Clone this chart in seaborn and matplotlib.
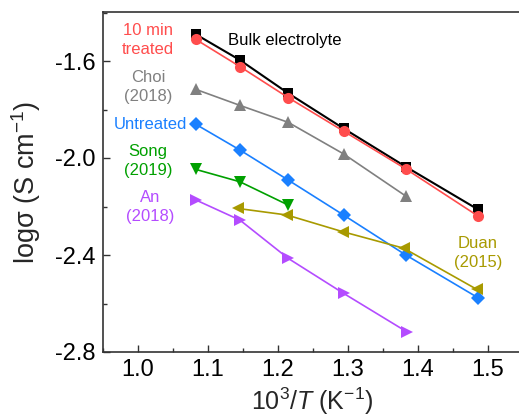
import matplotlib
matplotlib.use("Agg")
import matplotlib.pyplot as plt
import seaborn as sns
import pandas as pd
from matplotlib.ticker import MultipleLocator

# ---- data ----
x6 = [1.083, 1.146, 1.215, 1.294, 1.383, 1.486]
bulk = [-1.49, -1.596, -1.733, -1.878, -2.036, -2.212]
treated10 = [-1.511, -1.623, -1.751, -1.889, -2.045, -2.239]
untreated = [-1.861, -1.967, -2.091, -2.235, -2.400, -2.576]
choi_x = [1.083, 1.146, 1.215, 1.294, 1.383]
choi = [-1.717, -1.783, -1.853, -1.983, -2.157]
song_x = [1.083, 1.146, 1.215]
song = [-2.047, -2.098, -2.194]
duan_x = [1.143, 1.213, 1.293, 1.380, 1.484]
duan = [-2.208, -2.235, -2.304, -2.372, -2.541]
an_x = [1.083, 1.146, 1.215, 1.294, 1.384]
an = [-2.173, -2.256, -2.414, -2.558, -2.716]

xticks = [1.0, 1.1, 1.2, 1.3, 1.4, 1.5]
yticks = [-2.8, -2.4, -2.0, -1.6]

sns.set_style("ticks")
plt.rcParams['font.family'] = ['Liberation Sans', 'DejaVu Sans']
plt.rcParams['axes.unicode_minus'] = False
plt.rcParams['mathtext.fontset'] = 'custom'
plt.rcParams['mathtext.rm'] = 'Liberation Sans'
plt.rcParams['mathtext.it'] = 'Liberation Sans:italic'

fig = plt.figure(figsize=(5.19, 4.17), dpi=100)
ax = fig.add_axes([102.7 / 519, 1 - 352 / 417, 420 / 519, 339.5 / 417])

series = [
    (x6, bulk, 'black', 's', 6.5, 1.5),
    (choi_x, choi, '#808080', '^', 8, 1.2),
    (x6, untreated, '#1A80FF', 'D', 7.5, 1.2),
    (song_x, song, '#00A000', 'v', 8, 1.2),
    (duan_x, duan, '#A89A00', '<', 8, 1.2),
    (an_x, an, '#B44CFF', '>', 8, 1.2),
    (x6, treated10, '#FF4D4D', 'o', 8, 1.2),
]
for xs, ys, c, m, ms, lw in series:
    df = pd.DataFrame({'x': xs, 'y': ys})
    sns.lineplot(data=df, x='x', y='y', ax=ax, color=c, marker=m, markersize=ms,
                 markeredgewidth=0, linewidth=lw, sort=False)

ax.set_xlim(0.95, 1.55)
ax.set_ylim(-2.8, -1.4)
ax.set_xticks(xticks)
ax.set_yticks(yticks)
ax.set_xticklabels([f"{v:.1f}" for v in xticks])
ax.set_yticklabels([f"{v:.1f}" for v in yticks])
ax.xaxis.set_minor_locator(MultipleLocator(0.05))
ax.yaxis.set_minor_locator(MultipleLocator(0.2))
ax.tick_params(which='both', direction='in', width=1.0, colors='#333333', labelcolor='black')
ax.tick_params(which='major', length=5, labelsize=17, pad=5)
ax.tick_params(which='minor', length=3)
for s in ax.spines.values():
    s.set_linewidth(1.2)
    s.set_color('#333333')

ax.set_xlabel('10$^3$/$T$ (K$^{-1}$)', fontsize=18, labelpad=3)
ax.set_ylabel('logσ (S cm$^{-1}$)', fontsize=19.5, labelpad=9)

fs = 12
ls = 1.3
ax.text(1.0147, -1.513, '10 min\ntreated', color='#FF4D4D', fontsize=fs, ha='center', va='center', linespacing=ls)
ax.text(1.129, -1.516, 'Bulk electrolyte', color='black', fontsize=fs, ha='left', va='center')
ax.text(1.0147, -1.707, 'Choi\n(2018)', color='#808080', fontsize=fs, ha='center', va='center', linespacing=ls)
ax.text(1.0176, -1.860, 'Untreated', color='#1A80FF', fontsize=fs, ha='center', va='center')
ax.text(1.0147, -2.012, 'Song\n(2019)', color='#00A000', fontsize=fs, ha='center', va='center', linespacing=ls)
ax.text(1.0176, -2.202, 'An\n(2018)', color='#B44CFF', fontsize=fs, ha='center', va='center', linespacing=ls)
ax.text(1.486, -2.392, 'Duan\n(2015)', color='#A89A00', fontsize=fs, ha='center', va='center', linespacing=ls)

fig.savefig('out.png', dpi=100)
